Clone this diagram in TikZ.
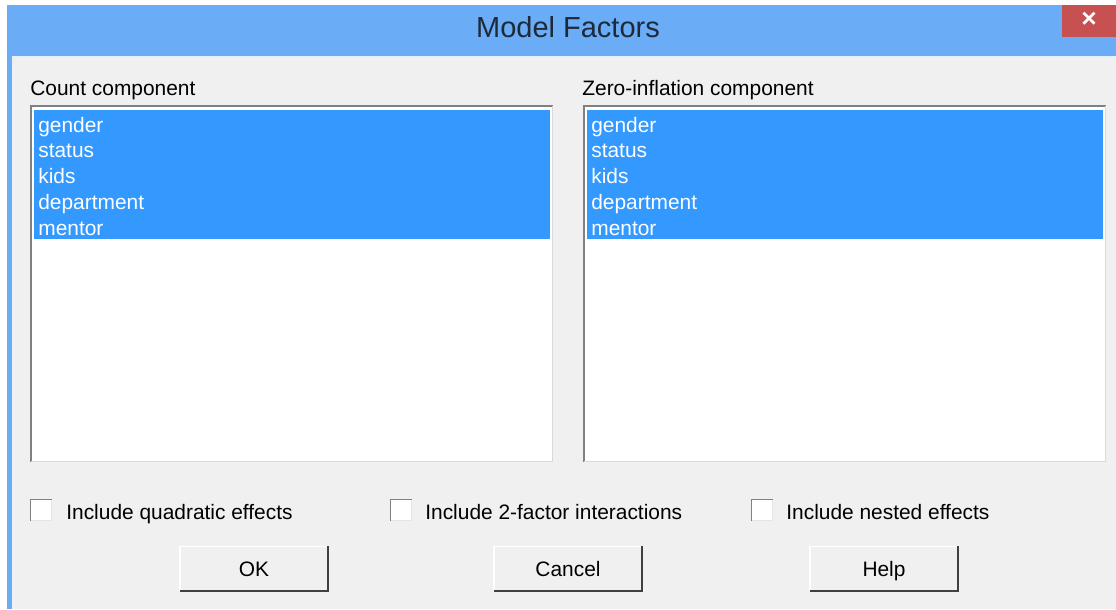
\documentclass[tikz,border=0pt]{standalone}
\usepackage{fontspec}
\setmainfont{Liberation Sans}
\definecolor{barblue}{HTML}{6AACF6}
\definecolor{panel}{HTML}{F0F0F0}
\definecolor{selblue}{HTML}{3399FF}
\definecolor{closered}{HTML}{C75050}
\definecolor{titleink}{HTML}{1E2A3A}

\begin{document}
\begin{tikzpicture}[x=0.02cm,y=-0.02cm,font=\fontsize{11.9}{14}\selectfont,
  lbl/.style={anchor=west,inner sep=0pt,text height=12pt,text depth=2.6pt},
  item/.style={lbl,text=white},
  btn/.style={anchor=center,inner sep=0pt,text height=12pt,text depth=2.6pt}]
        \useasboundingbox (0,0) rectangle (1116,609);
        % window frame
        \fill[white] (0,0) rectangle (1116,609);
        \fill[barblue] (7,5) rectangle (1116,609);
        \fill[panel] (12,57) rectangle (1116,609);
        \draw[white!80!barblue] (12,56.5) -- (1116,56.5);
        \fill[closered] (1062,5) rectangle (1116,37);
        \node[text=white,font=\fontsize{15}{15}\bfseries\selectfont] (close) at (1089,20) {×};
        \node[text=titleink,font=\fontsize{16.5}{18}\selectfont] (title) at (568,27) {Model Factors};

        % list boxes
        \node[lbl] (cnt) at (30,87) {Count component};
        \node[lbl] (zero) at (582,87) {Zero-inflation component};
        \fill[white] (30,105) rectangle (553,462);
        \fill[selblue] (34,110) rectangle (550,239);
        \draw[line width=1.5pt,gray] (31,462) -- (31,106) -- (553,106);
        \draw[line width=1pt,black!15] (31,461.5) -- (552.5,461.5) -- (552.5,106);
        \fill[white] (583,105) rectangle (1106,462);
        \fill[selblue] (587,110) rectangle (1103,239);
        \draw[line width=1.5pt,gray] (584,462) -- (584,106) -- (1106,106);
        \draw[line width=1pt,black!15] (584,461.5) -- (1105.5,461.5) -- (1105.5,106);
        \node[item] (c1) at (38,124) {gender};
        \node[item] (c2) at (38,149) {status};
        \node[item] (c3) at (38,175) {kids};
        \node[item] (c4) at (38,201) {department};
        \node[item] (c5) at (38,227) {mentor};
        \node[item] (z1) at (591,124) {gender};
        \node[item] (z2) at (591,149) {status};
        \node[item] (z3) at (591,175) {kids};
        \node[item] (z4) at (591,201) {department};
        \node[item] (z5) at (591,227) {mentor};

        % check boxes
        \fill[white] (30,499) rectangle (52,521);
        \draw[gray,line width=1pt] (30.5,521) -- (30.5,499.5) -- (52,499.5);
        \draw[black!10] (31,520.5) -- (51.5,520.5) -- (51.5,500);
        \node[lbl] (quad) at (66,511) {Include quadratic effects};
        \fill[white] (390,499) rectangle (412,521);
        \draw[gray,line width=1pt] (390.5,521) -- (390.5,499.5) -- (412,499.5);
        \draw[black!10] (391,520.5) -- (411.5,520.5) -- (411.5,500);
        \node[lbl] (inter) at (425,511) {Include 2-factor interactions};
        \fill[white] (751,499) rectangle (773,521);
        \draw[gray,line width=1pt] (751.5,521) -- (751.5,499.5) -- (773,499.5);
        \draw[black!10] (752,520.5) -- (772.5,520.5) -- (772.5,500);
        \node[lbl] (nest) at (786,511) {Include nested effects};

        % buttons
        \draw[white,line width=1pt] (180,591) -- (180,546.5) -- (328,546.5);
        \draw[black!75,line width=1.5pt] (180,591) -- (328,591) -- (328,546);
        \node[btn] (ok) at (254,568) {OK};
        \draw[white,line width=1pt] (494,591) -- (494,546.5) -- (642,546.5);
        \draw[black!75,line width=1.5pt] (494,591) -- (642,591) -- (642,546);
        \node[btn] (cancel) at (568,568) {Cancel};
        \draw[white,line width=1pt] (810,591) -- (810,546.5) -- (958,546.5);
        \draw[black!75,line width=1.5pt] (810,591) -- (958,591) -- (958,546);
        \node[btn] (help) at (884,568) {Help};
    \end{tikzpicture}
\end{document}
